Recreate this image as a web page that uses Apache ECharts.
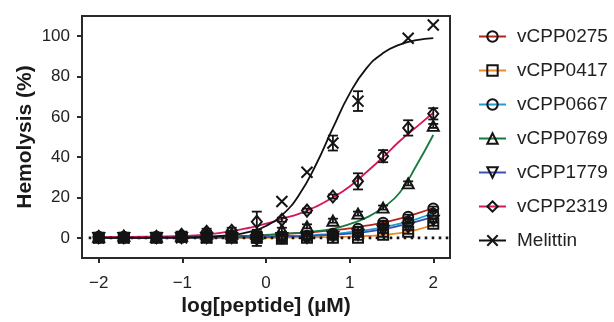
<!DOCTYPE html>
<html>
<head>
<meta charset="utf-8">
<script src="https://cdn.jsdelivr.net/npm/echarts@6/dist/echarts.min.js"></script>
<style>
html, body { margin: 0; padding: 0; background: #fff; }
#chart { width: 614px; height: 322px; }
</style>
</head>
<body>
<div id="chart"></div>
<script>
// measured doses (log µM)
const doseLog = [-2, -1.7, -1.31, -1.01, -0.71, -0.41, -0.11, 0.19, 0.49, 0.8, 1.1, 1.4, 1.7, 2.0];

// mean hemolysis (%) and error per peptide
const hemo0275 = [0.5, 0, 0.5, 0.5, 0.5, 0.5, 0, 0.5, 1, 2, 4.5, 7.5, 10.5, 14.5];
const err0275 = [1.5, 1.5, 1.5, 2, 1.5, 1.5, 4, 1.5, 1.5, 1, 1, 1, 1, 1];
const hemo0417 = [0, 0, 0, 0.5, 0, 0, 0, -0.5, 0, 0, 0, 1.5, 3, 7];
const err0417 = [1, 1, 1, 1, 1, 1, 1, 1.5, 1, 1, 1, 1, 1, 1];
const hemo0667 = [0, 0.5, 0, 0, 0.5, 0.5, 1, 0, 0.5, 1.5, 3, 6, 8, 12];
const err0667 = [1, 1, 1, 1, 1, 1, 1, 1, 1, 1, 1, 1, 1, 1];
const hemo0769 = [0.5, 1, 0.5, 1, 2, 2, 2, 4, 5.7, 8.5, 12, 15, 27, 55.5];
const err0769 = [1, 1, 1, 1, 1.5, 1.5, 1, 1, 1, 1, 1, 1, 1, 1];
const hemo1779 = [0, 0, 0, 0, 0, 0, -1, 0, 0, 0.5, 1.5, 3.5, 5, 8.5];
const err1779 = [1, 1, 1, 1, 1, 1, 1.5, 1, 1, 1, 1, 1, 1, 1];
const hemo2319 = [0.5, 0.5, 0.5, 1.5, 3, 3.5, 8, 9, 13.5, 20.5, 28, 40.5, 54.5, 61.5];
const err2319 = [1, 1, 1, 1, 1.5, 1.5, 5, 1, 1, 1, 4, 3, 3.8, 2.8];
const hemoMelittin = [0, 0, 0, 0, 0, 0, 0.5, 18, 32.5, 47, 67.8, null, 99, 105.5];
const errMelittin = [1, 1, 1, 1, 1, 1, 1, 0, 0, 3.7, 4.9, 0, 0, 0];

// fitted curves
const fitX = [-2, -1.6, -1.2, -0.8, -0.4, -0.2, 0, 0.2, 0.4, 0.6, 0.8, 1.0, 1.2, 1.4, 1.6, 1.8, 2.0];
const fit0275 = [0.3, 0.3, 0.4, 0.5, 0.8, 1.1, 1.5, 2, 2.4, 3, 3.8, 4.7, 6, 7.5, 9.5, 12, 14.8];
const fit0417 = [0, 0, 0, 0, 0, 0, 0, 0.1, 0.2, 0.3, 0.4, 0.6, 0.9, 1.4, 2.3, 4, 6.5];
const fit0667 = [0, 0, 0.1, 0.2, 0.3, 0.4, 0.6, 0.8, 1.1, 1.5, 2, 2.8, 3.8, 5.2, 7, 9.3, 12.3];
const fit0769 = [0.2, 0.2, 0.3, 0.5, 0.8, 1, 1.3, 1.8, 2.5, 3.3, 4.5, 6.8, 10, 15, 22.5, 36, 51];
const fit1779 = [0, 0, 0, 0.1, 0.2, 0.3, 0.4, 0.6, 0.8, 1.1, 1.5, 2.1, 3, 4.3, 6, 8, 10.5];
const fit2319 = [0.4, 0.5, 0.7, 1.3, 3.4, 5, 7, 9.5, 12, 15.5, 20, 25.5, 32.5, 40, 48, 55, 62];
const fitMelittin = [0, 0, 0.1, 0.3, 1.4, 2.9, 5.9, 11.6, 21.6, 36.5, 54.5, 71.5, 84, 91.6, 95.8, 98, 99];

// dotted baseline
const baseX = [-2.12, 2.2];
const baseY = [0, 0];

const xTicks = [-2, -1, 0, 1, 2];
const yTicks = [0, 20, 40, 60, 80, 100];

const FONT = '"Liberation Sans", Arial, sans-serif';
const INK = '#141414';

const peptides = [
    { name: 'vCPP0275', color: '#b4231c', symbol: 'circle', size: 10, y: hemo0275, err: err0275, fit: fit0275 },
    { name: 'vCPP0417', color: '#f0891d', symbol: 'rect', size: 10, y: hemo0417, err: err0417, fit: fit0417 },
    { name: 'vCPP0667', color: '#1f9fd0', symbol: 'circle', size: 10, y: hemo0667, err: err0667, fit: fit0667 },
    { name: 'vCPP0769', color: '#147a3d', symbol: 'triangle', size: [11, 10], y: hemo0769, err: err0769, fit: fit0769 },
    { name: 'vCPP1779', color: '#3b4fb4', symbol: 'path://M0,0L10,0L5,9Z', size: [11, 10], y: hemo1779, err: err1779, fit: fit1779 },
    { name: 'vCPP2319', color: '#d6155c', symbol: 'diamond', size: [10, 12], y: hemo2319, err: err2319, fit: fit2319 },
    { name: 'Melittin', color: '#111111', symbol: 'path://M0,0L10,10M10,0L0,10', size: 11, y: hemoMelittin, err: errMelittin, fit: fitMelittin },
];

const markerStyle = { color: 'rgba(255,255,255,0)', borderColor: INK, borderWidth: 2, opacity: 1 };

const series = [];
const errRows = [];

peptides.forEach(p => {
    series.push({
        name: p.name,
        type: 'line',
        data: fitX.map((x, i) => [x, p.fit[i]]),
        smooth: 0.5,
        showSymbol: false,
        symbol: p.symbol,
        symbolSize: p.size,
        itemStyle: markerStyle,
        lineStyle: { color: p.color, width: 1.8 },
        z: 2,
        silent: true,
    });
    series.push({
        name: p.name,
        type: 'scatter',
        data: doseLog.map((x, i) => [x, p.y[i]]).filter(d => d[1] !== null),
        symbol: p.symbol,
        symbolSize: p.size,
        itemStyle: markerStyle,
        z: 4,
        silent: true,
    });
    doseLog.forEach((x, i) => {
        if (p.y[i] !== null && p.err[i] > 0) {
            errRows.push([x, p.y[i] - p.err[i], p.y[i] + p.err[i]]);
        }
    });
});

series.push({
    name: 'errors',
    type: 'custom',
    data: errRows,
    encode: { x: 0, y: [1, 2] },
    z: 5,
    silent: true,
    renderItem: (params, api) => {
        const x = api.value(0);
        const lo = api.coord([x, api.value(1)]);
        const hi = api.coord([x, api.value(2)]);
        const w = 5;
        const st = { stroke: INK, lineWidth: 1.8 };
        return {
            type: 'group',
            children: [
                { type: 'line', shape: { x1: lo[0], y1: lo[1], x2: hi[0], y2: hi[1] }, style: st },
                { type: 'line', shape: { x1: lo[0] - w, y1: lo[1], x2: lo[0] + w, y2: lo[1] }, style: st },
                { type: 'line', shape: { x1: hi[0] - w, y1: hi[1], x2: hi[0] + w, y2: hi[1] }, style: st },
            ],
        };
    },
});

series.push({
    name: 'baseline',
    type: 'line',
    data: baseX.map((x, i) => [x, baseY[i]]),
    showSymbol: false,
    lineStyle: { color: INK, width: 2.6, type: [2.6, 4.4], cap: 'butt' },
    z: 3,
    silent: true,
});

const chart = echarts.init(document.getElementById('chart'), null, { renderer: 'canvas' });

chart.setOption({
    animation: false,
    backgroundColor: '#fff',
    textStyle: { fontFamily: FONT },
    grid: {
        left: 82,
        right: 164,
        top: 16,
        bottom: 62,
        show: true,
        borderColor: '#2a2a2a',
        borderWidth: 2,
    },
    legend: {
        data: peptides.map(p => p.name),
        orient: 'vertical',
        left: 473,
        top: 22,
        itemWidth: 27,
        itemHeight: 13,
        itemGap: 15,
        selectedMode: false,
        textStyle: { fontFamily: FONT, fontSize: 19, color: '#222', padding: [0, 0, 0, 6] },
    },
    xAxis: {
        type: 'value',
        min: -2.2,
        max: 2.2,
        name: 'log[peptide] (µM)',
        nameLocation: 'middle',
        nameGap: 38,
        nameMoveOverlap: false,
        nameTextStyle: { fontFamily: FONT, fontSize: 21, fontWeight: 'bold', color: '#1a1a1a' },
        axisLine: { onZero: false, lineStyle: { color: '#2a2a2a', width: 2 } },
        axisTick: { show: true, length: 5, lineStyle: { color: '#2a2a2a', width: 2 }, customValues: xTicks },
        axisLabel: {
            customValues: xTicks,
            fontFamily: FONT,
            fontSize: 17,
            color: '#222',
            margin: 17,
            formatter: v => (v < 0 ? '\u2212' + Math.abs(v) : String(v)),
        },
        splitLine: { show: false },
    },
    yAxis: {
        type: 'value',
        min: -10,
        max: 110,
        name: 'Hemolysis (%)',
        nameLocation: 'middle',
        nameGap: 46,
        nameMoveOverlap: false,
        nameTextStyle: { fontFamily: FONT, fontSize: 21, fontWeight: 'bold', color: '#1a1a1a' },
        axisLine: { onZero: false, lineStyle: { color: '#2a2a2a', width: 2 } },
        axisTick: { show: true, length: 5, lineStyle: { color: '#2a2a2a', width: 2 }, customValues: yTicks },
        axisLabel: {
            customValues: yTicks,
            fontFamily: FONT,
            fontSize: 17,
            color: '#222',
            margin: 12,
        },
        splitLine: { show: false },
    },
    series: series,
});
</script>
</body>
</html>
